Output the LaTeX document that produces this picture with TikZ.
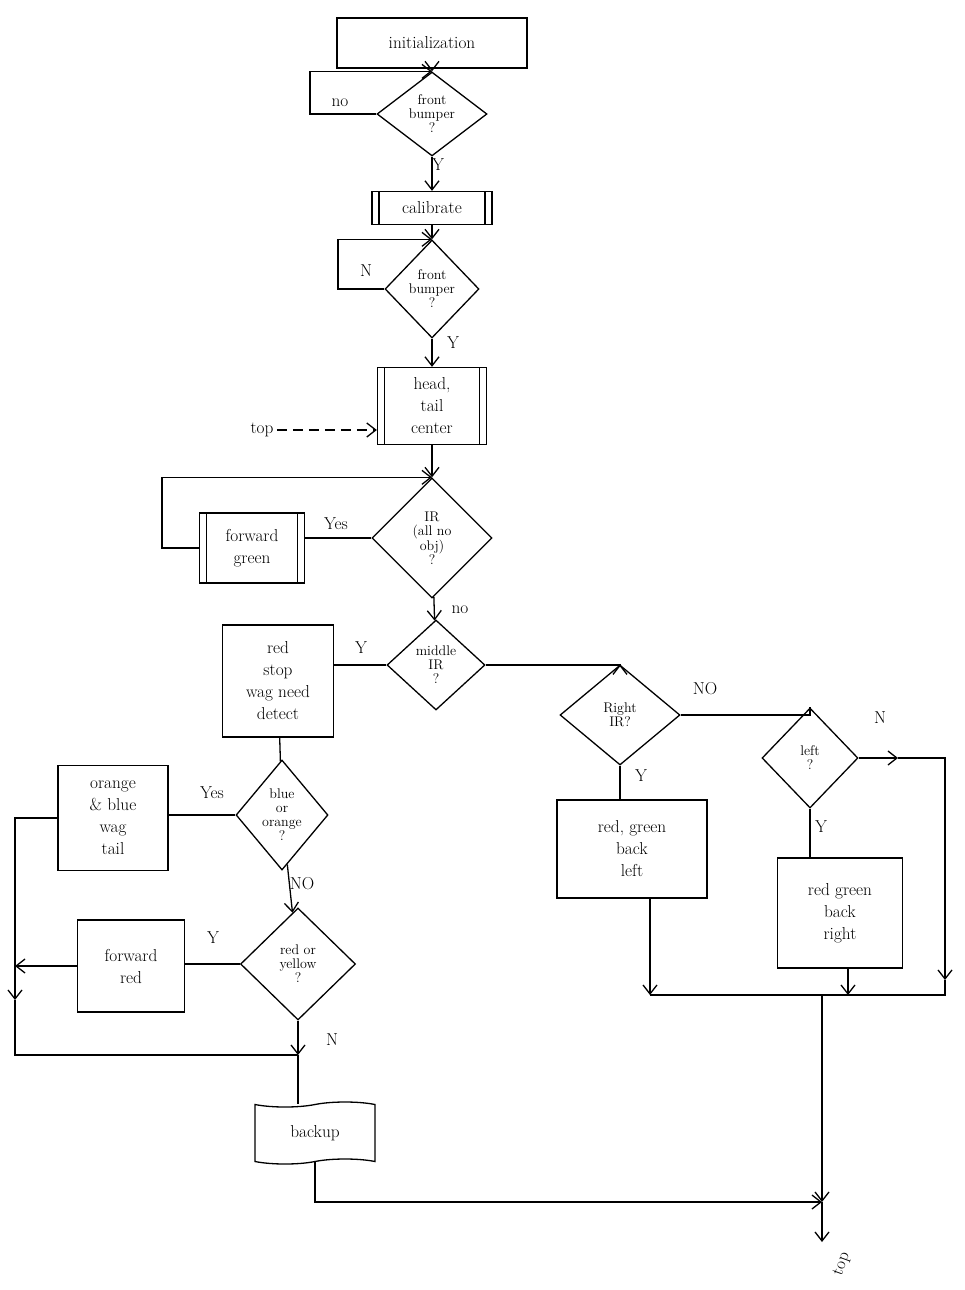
\documentclass[tikz,border=0pt]{standalone}
\usepackage{tikz}
\usetikzlibrary{positioning,shapes.geometric,shapes.symbols,arrows.meta}
\tikzset{box/.style={draw,line width=1.3pt,align=center,font=\LARGE,inner sep=3pt},
  proc/.style={box},
  sub/.style={box,inner xsep=10pt,path picture={\draw[line width=1.3pt] ([xshift=7pt]path picture bounding box.north west) -- ([xshift=7pt]path picture bounding box.south west) ([xshift=-7pt]path picture bounding box.north east) -- ([xshift=-7pt]path picture bounding box.south east);}},
  dec/.style={box,diamond,inner sep=0pt,font=\fontsize{14}{14}\selectfont},
  lab/.style={font=\LARGE},
  wire/.style={line width=1.3pt},
  flow/.style={wire,-{Straight Barb[length=9pt,width=14pt]}}}

\begin{document}
\begin{tikzpicture}[x=1pt,y=-1pt]
	\useasboundingbox (0,0) rectangle (964,1290);
	\def\mx{432}
	\node[proc,minimum width=190,minimum height=50] (init) at (\mx,43) {initialization};
	\node[dec,minimum width=110,minimum height=78] (bmp1) at (\mx,114) {front\\bumper\\?};
	\node[sub,minimum width=120,minimum height=33] (calib) at (\mx,208) {calibrate};
	\node[dec,minimum width=94,minimum height=98] (bmp2) at (\mx,289) {front\\bumper\\?};
	\node[sub,minimum width=109,minimum height=77] (head) at (\mx,406) {head,\\tail\\center};
	\node[lab] (top1) at (262,430) {top};
	\node[dec,minimum width=120,minimum height=120] (ir) at (\mx,538) {IR\\(all no\\obj)\\?};
	\node[sub,minimum width=105,minimum height=70] (fwdg) at (252,548) {forward\\green};
	\node[dec,minimum width=98,minimum height=90] (mid) at (436,665) {middle\\IR\\?};
	\node[proc,minimum width=111,minimum height=112] (stop) at (278,681) {red\\stop\\wag need\\detect};
	\node[dec,minimum width=120,minimum height=100] (rir) at (620,715) {Right\\IR?};
	\node[dec,minimum width=96,minimum height=100] (lir) at (810,758) {left\\?};
	\node[proc,minimum width=150,minimum height=98] (rgl) at (632,849) {red, green\\back\\left};
	\node[proc,minimum width=125,minimum height=110] (rgr) at (840,913) {red green\\back\\right};
	\node[dec,minimum width=92,minimum height=110] (bo) at (282,815) {blue\\or\\orange\\?};
	\node[proc,minimum width=110,minimum height=105] (wag) at (113,818) {orange\\\& blue\\wag\\tail};
	\node[dec,minimum width=115,minimum height=112] (ry) at (298,964) {red or\\yellow\\?};
	\node[proc,minimum width=107,minimum height=92] (fwdr) at (131,966) {forward\\red};
	\node[box,tape,minimum width=120,minimum height=62] (bkup) at (315,1133) {backup};
	\node[lab,rotate=70] (top2) at (842,1264) {top};
	\foreach \t/\x/\y [count=\i] in {no/340/103,Y/438/165,N/366/271,Y/453/343,Yes/336/524,no/460/610,Y/361/648,NO/705/689,N/880/718,Y/641/776,Y/821/827,Yes/212/793,NO/302/884,Y/213/938,N/332/1040}
		\node[lab] (l\i) at (\x,\y) {\t};
	\coordinate (c1) at (310,90);
	\coordinate (c2) at (338,260);
	\coordinate (g1) at (162,500);
	\draw[flow] (init) -- (bmp1);
	\draw[flow] (bmp1.west) -| (c1) |- (bmp1.north);
	\draw[flow] (bmp1) -- (calib);
	\draw[flow] (calib) -- (bmp2);
	\draw[flow] (bmp2.west) -| (c2) |- (bmp2.north);
	\draw[flow] (bmp2) -- (head);
	\draw[flow,dash pattern=on 10pt off 6pt] (top1) -- (head.west |- top1);
	\draw[flow] (head) -- (ir);
	\draw[wire] (ir.west) -- (ir.west -| fwdg.east);
	\draw[flow] (fwdg.west) -| (g1) |- (ir.north);
	\draw[flow] (ir) -- (mid);
	\draw[wire] (mid.west) -- (mid.west -| stop.east);
	\draw[flow] (mid.east) -| (rir.north);
	\draw[wire] (rir.east) -| (lir.north);
	\draw[wire] (rir.south) -- (rir.south |- rgl.north);
	\draw[wire] (lir.south) -- (lir.south |- rgr.north);
	\coordinate (na) at (898,740);
	\coordinate (nb) at (945,980);
	\draw[flow] (lir.east) -- (lir.east -| na);
	\draw[flow] (lir.east -| na) -| (nb);
	\coordinate (ja) at (650,995);
	\coordinate (jb) at (848,995);
	\coordinate (jc) at (945,995);
	\coordinate (jd) at (822,995);
	\coordinate (je) at (822,1202);
	\coordinate (jt) at (822,1242);
	\draw[flow] (rgl.south -| ja) -- (ja);
	\draw[flow] (rgr.south -| jb) -- (jb);
	\draw[wire] (ja) -- (jc) -- (nb);
	\draw[flow] (jd) -- (je);
	\draw[flow] (je) -- (jt);
	\draw[flow] (bkup.south) |- (je);
	\draw[wire] (stop) -- (bo);
	\draw[wire] (bo.west) -- (bo.west -| wag.east);
	\draw[flow] (bo) -- (ry);
	\draw[wire] (ry.west) -- (ry.west -| fwdr.east);
	\coordinate (la) at (15,966);
	\coordinate (lb) at (15,1000);
	\coordinate (lc) at (298,1055);
	\draw[wire] (wag.west) -| (la);
	\draw[flow] (fwdr.west) -- (la);
	\draw[flow] (la) -- (lb);
	\draw[wire] (lb) |- (lc);
	\draw[flow] (ry.south) -- (lc);
	\draw[wire] (lc) -- (lc |- bkup.north);
\end{tikzpicture}
\end{document}
